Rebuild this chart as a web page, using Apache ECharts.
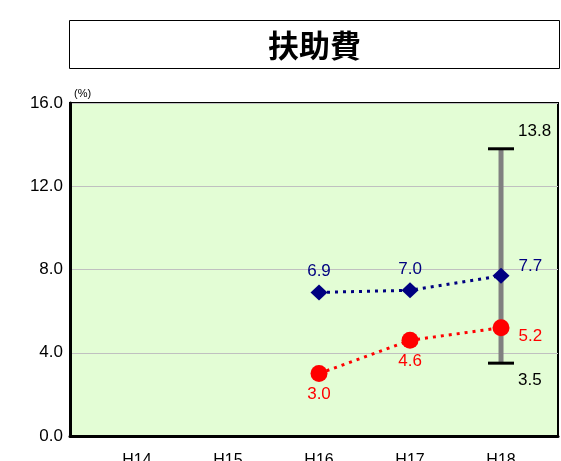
<!DOCTYPE html>
<html>
<head>
<meta charset="utf-8">
<script src="https://cdn.jsdelivr.net/npm/echarts@6/dist/echarts.min.js"></script>
<style>
  html, body { margin: 0; padding: 0; background: #fff; }
  #chart { width: 561px; height: 461px; }
</style>
</head>
<body>
<div id="chart"></div>
<script>
// Fiscal years (Heisei)
const categories = ['H14', 'H15', 'H16', 'H17', 'H18'];
// Blue series (diamonds)
const blueValues = [null, null, 6.9, 7.0, 7.7];
// Red series (circles)
const redValues = [null, null, 3.0, 4.6, 5.2];
// Range bar: [category index, low, high]
const rangeBar = [[4, 3.5, 13.8]];
// Y axis ticks
const yTicks = [0, 4, 8, 12, 16];

const FONT = '"Liberation Sans", Arial, sans-serif';

const blueData = blueValues.map((v, i) => [i, v]);
const redData = redValues.map((v, i) => [i, v]);

const chart = echarts.init(document.getElementById('chart'), null, { renderer: 'canvas' });

chart.setOption({
  animation: false,
  backgroundColor: '#ffffff',
  textStyle: { fontFamily: FONT },
  graphic: [
    {
      type: 'rect',
      shape: { x: 69.5, y: 20.5, width: 490, height: 48 },
      style: { fill: '#ffffff', stroke: '#000000', lineWidth: 1 },
      z: 10
    },
    {
      type: 'text',
      x: 314.5, y: 45,
      style: {
        text: '扶助費',
        font: 'bold 31px "Noto Sans CJK JP", sans-serif',
        fill: '#000000',
        align: 'center',
        verticalAlign: 'middle'
      },
      z: 11
    }
  ],
  grid: {
    left: 70, top: 103, right: 3, bottom: 25,
    outerBoundsMode: 'none',
    containLabel: false,
    show: true,
    backgroundColor: '#e3fdd5',
    borderColor: '#000000',
    borderWidth: 2
  },
  xAxis: {
    type: 'value',
    min: -0.736,
    max: 4.626,
    axisLine: { show: true, onZero: false, lineStyle: { color: '#000', width: 3 } },
    axisTick: { show: false },
    splitLine: { show: false },
    axisLabel: {
      customValues: [0, 1, 2, 3, 4],
      formatter: v => categories[Math.round(v)],
      fontSize: 16,
      color: '#000',
      margin: 17,
      fontFamily: FONT
    }
  },
  yAxis: {
    type: 'value',
    min: yTicks[0],
    max: yTicks[yTicks.length - 1],
    interval: 4,
    name: '(%)',
    nameLocation: 'end',
    nameGap: 4,
    nameTextStyle: { fontSize: 11, color: '#000', align: 'left', padding: [0, 0, 0, 4], fontFamily: FONT },
    axisLine: { show: true, onZero: false, lineStyle: { color: '#000', width: 3 } },
    axisTick: { show: false },
    splitLine: { show: true, lineStyle: { color: '#c0c0c0', width: 1 } },
    axisLabel: {
      formatter: v => v.toFixed(1),
      fontSize: 17,
      color: '#000',
      margin: 7,
      fontFamily: FONT
    }
  },
  series: [
    {
      type: 'custom',
      name: 'range',
      z: 1,
      data: rangeBar,
      renderItem: function (params, api) {
        const x = api.value(0);
        const lo = api.coord([x, api.value(1)]);
        const hi = api.coord([x, api.value(2)]);
        const cap = 13;
        return {
          type: 'group',
          children: [
            { type: 'line', shape: { x1: lo[0], y1: lo[1], x2: hi[0], y2: hi[1] },
              style: { stroke: '#808080', lineWidth: 5 } },
            { type: 'line', shape: { x1: hi[0] - cap, y1: hi[1], x2: hi[0] + cap, y2: hi[1] },
              style: { stroke: '#000000', lineWidth: 3 } },
            { type: 'line', shape: { x1: lo[0] - cap, y1: lo[1], x2: lo[0] + cap, y2: lo[1] },
              style: { stroke: '#000000', lineWidth: 3 } },
            { type: 'text', x: hi[0] + 17, y: hi[1] - 17,
              style: { text: api.value(2).toFixed(1), font: '17px ' + FONT, fill: '#000',
                       verticalAlign: 'middle', align: 'left' } },
            { type: 'text', x: lo[0] + 17, y: lo[1] + 17,
              style: { text: api.value(1).toFixed(1), font: '17px ' + FONT, fill: '#000',
                       verticalAlign: 'middle', align: 'left' } }
          ]
        };
      }
    },
    {
      type: 'line',
      name: 'blue',
      z: 3,
      data: blueData,
      symbol: 'diamond',
      symbolSize: [17, 16],
      itemStyle: { color: '#000080' },
      lineStyle: { color: '#000080', width: 3, type: [3, 5] },
      label: {
        show: true,
        position: 'top',
        distance: 5,
        color: '#000080',
        fontSize: 17,
        fontFamily: FONT,
        formatter: p => p.value[1].toFixed(1)
      },
      labelLayout: function (params) {
        if (params.dataIndex === 4) {
          return { x: params.rect.x + params.rect.width + 9, y: params.rect.y + params.rect.height / 2 - 9, align: 'left', verticalAlign: 'middle' };
        }
      }
    },
    {
      type: 'line',
      name: 'red',
      z: 3,
      data: redData,
      symbol: 'circle',
      symbolSize: 17,
      itemStyle: { color: '#ff0000' },
      lineStyle: { color: '#ff0000', width: 3, type: [3, 5] },
      label: {
        show: true,
        position: 'bottom',
        distance: 4,
        color: '#ff0000',
        fontSize: 17,
        fontFamily: FONT,
        formatter: p => p.value[1].toFixed(1)
      },
      labelLayout: function (params) {
        if (params.dataIndex === 4) {
          return { x: params.rect.x + params.rect.width + 9, y: params.rect.y + params.rect.height / 2 + 9, align: 'left', verticalAlign: 'middle' };
        }
      }
    }
  ]
});
</script>
</body>
</html>
